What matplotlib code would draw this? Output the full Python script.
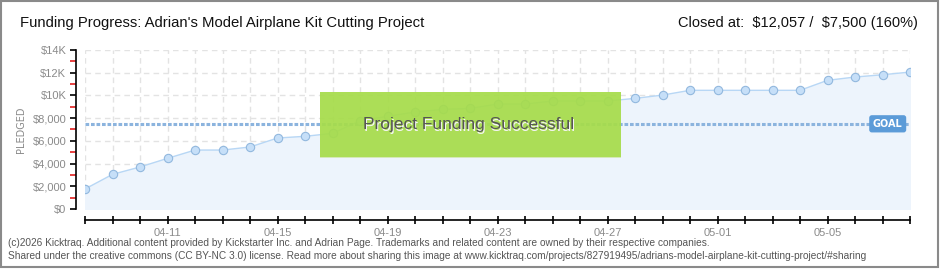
import matplotlib.pyplot as plt
from matplotlib.patches import Rectangle
import numpy as np
import pandas as pd

# データ
dates = pd.date_range("2026-04-08", "2026-05-08", freq="D")
pledged = [1760, 3050, 3700, 4460, 5190, 5190, 5460, 6250, 6400, 6660,
           7770, 8160, 8540, 8770, 8860, 9240, 9240, 9510, 9510, 9510,
           9740, 10030, 10450, 10450, 10450, 10450, 10450, 11330, 11620, 11820,
           12057]
goal = 7500
ytick_vals = [0, 2000, 4000, 6000, 8000, 10000, 12000, 14000]
ytick_labels = ["$0", "$2,000", "$4,000", "$6,000", "$8,000", "$10K", "$12K", "$14K"]
xlabel_dates = ["04-11", "04-15", "04-19", "04-23", "04-27", "05-01", "05-05"]

plt.rcParams['font.family'] = ['Liberation Sans', 'DejaVu Sans']

W, H = 940, 270
fig = plt.figure(figsize=(W / 100, H / 100), dpi=100)
fig.patch.set_facecolor("white")

# 枠
fig.add_artist(Rectangle((1 / W, 3 / H), 937 / W, (H - 4) / H, transform=fig.transFigure,
                         fill=False, edgecolor="#8a8a8a", linewidth=1.5))

ax = fig.add_axes([85 / W, (H - 209) / H, 825 / W, 159 / H])
ax.set_facecolor("none")

# グリッド
ax.set_xlim(dates[0], dates[-1])
ax.set_ylim(0, 14000)
ax.set_xticks(dates)
ax.set_xticklabels([d.strftime("%m-%d") if d.strftime("%m-%d") in xlabel_dates else ""
                    for d in dates])
ax.set_yticks(ytick_vals)
ax.set_yticklabels(ytick_labels)
ax.set_yticks(np.arange(1000, 14000, 2000), minor=True)
ax.grid(True, which="major", color="#e3e3e3", linestyle=(0, (4, 3)), linewidth=1)
ax.set_axisbelow(True)

# 塗りと線
ax.fill_between(dates, pledged, 0, color="#edf4fc", zorder=1)
ax.plot(dates, pledged, color="#b8d7f5", linewidth=1, zorder=2)
ax.plot(dates, pledged, linestyle="none", marker="o", markersize=6,
        markerfacecolor="#c6dff8", markeredgecolor="#92b8de", markeredgewidth=0.8, zorder=3)

# ゴール
ax.axhline(goal, color="#8cb4de", linewidth=2.2, linestyle=(0, (1.2, 0.6)), zorder=2)
ax.text(0.973, goal, "GOAL", transform=ax.get_yaxis_transform(), ha="center", va="center",
        fontsize=7, color="white", fontweight="bold", family="DejaVu Sans", zorder=5,
        bbox=dict(boxstyle="round,pad=0.3,rounding_size=0.2", facecolor="#5b9bd8",
                  edgecolor="#5b9bd8"))

# 軸
for s in ["top", "right"]:
    ax.spines[s].set_visible(False)
ax.spines["left"].set_position(("outward", 6.5))
ax.spines["bottom"].set_position(("outward", 8))
ax.spines["left"].set_linewidth(1.2)
ax.spines["bottom"].set_linewidth(1.2)
ax.tick_params(axis="y", which="major", length=4, width=1.2, color="black",
               labelsize=8, labelcolor="#8a8a8a", pad=3)
ax.tick_params(axis="y", which="minor", length=4, width=1.2, color="#e02020")
ax.tick_params(axis="x", which="major", direction="inout", length=6, width=1.2,
               labelsize=8, labelcolor="#8a8a8a", pad=3)
ax.set_ylabel("PLEDGED", fontsize=7, color="#8a8a8a", labelpad=5, family="DejaVu Sans")

# 成功バナー
fig.add_artist(Rectangle((320 / W, (H - 158) / H), 301 / W, 66 / H, transform=fig.transFigure,
                         facecolor="#a6dc4a", edgecolor="none", alpha=0.93, zorder=6))
fig.add_artist(Rectangle((320 / W, (H - 158) / H), 301 / W, 1.5 / H, transform=fig.transFigure,
                         facecolor="#d5e8b8", edgecolor="none", zorder=6))
fig.text(470 / W, (H - 126) / H, "Project Funding Successful", ha="center", va="center",
         fontsize=12.5, color="#f4f4f4", zorder=7)
fig.text(469 / W, (H - 125) / H, "Project Funding Successful", ha="center", va="center",
         fontsize=12.5, color="#555555", zorder=8)

# タイトル
fig.text(20 / W, (H - 23) / H, "Funding Progress: Adrian's Model Airplane Kit Cutting Project",
         ha="left", va="center", fontsize=10.7, color="#111111")
fig.text(918 / W, (H - 23) / H, "Closed at:  \\$12,057 /  \\$7,500 (160%)",
         ha="right", va="center", fontsize=10.5, color="#111111")

# フッター
fig.text(8 / W, (H - 243) / H,
         "(c)2026 Kicktraq. Additional content provided by Kickstarter Inc. and Adrian Page. "
         "Trademarks and related content are owned by their respective companies.",
         ha="left", va="center", fontsize=7.3, color="#555555")
fig.text(8 / W, (H - 256) / H,
         "Shared under the creative commons (CC BY-NC 3.0) license. Read more about sharing this "
         "image at www.kicktraq.com/projects/827919495/adrians-model-airplane-kit-cutting-project/#sharing",
         ha="left", va="center", fontsize=7.3, color="#555555")

plt.savefig("out.png", dpi=100)
